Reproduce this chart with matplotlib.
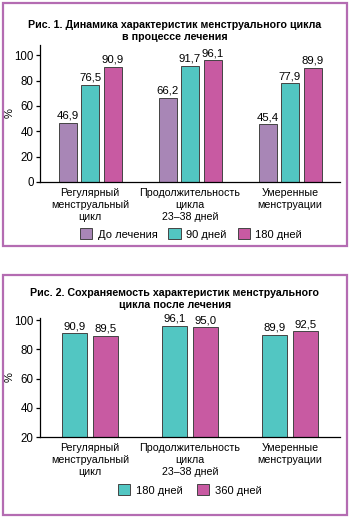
import matplotlib.pyplot as plt
from matplotlib.patches import Rectangle
import numpy as np

plt.rcParams['font.family'] = ['Liberation Sans', 'DejaVu Sans']

categories = ['Регулярный\nменструальный\nцикл', 'Продолжительность\nцикла\n23–38 дней', 'Умеренные\nменструации']

# Рис. 1
fig1_series = ['До лечения', '90 дней', '180 дней']
fig1_before = [46.9, 66.2, 45.4]
fig1_90 = [76.5, 91.7, 77.9]
fig1_180 = [90.9, 96.1, 89.9]

# Рис. 2
fig2_series = ['180 дней', '360 дней']
fig2_180 = [90.9, 96.1, 89.9]
fig2_360 = [89.5, 95.0, 92.5]

c_purple = '#a886b6'
c_teal = '#52c6c2'
c_pink = '#c85aa2'
c_border = '#b46cb2'
edge = '#444444'

W, H = 350, 520
fig = plt.figure(figsize=(3.5, 5.2), dpi=100)


def px_axes(x0, y0, x1, y1):
    return fig.add_axes([x0 / W, 1 - y1 / H, (x1 - x0) / W, (y1 - y0) / H])


def frame(x0, y0, x1, y1):
    fig.patches.append(Rectangle((x0 / W, 1 - y1 / H), (x1 - x0) / W, (y1 - y0) / H,
                                 transform=fig.transFigure, fill=False,
                                 edgecolor=c_border, linewidth=1.6))


def style(ax):
    for s in ['top', 'right']:
        ax.spines[s].set_visible(False)
    ax.spines['left'].set_linewidth(0.9)
    ax.spines['bottom'].set_linewidth(0.9)
    ax.tick_params(axis='y', labelsize=8.3, length=3, width=0.9, pad=1.5)
    ax.tick_params(axis='x', length=0, labelsize=7.7, pad=4)
    ax.set_ylabel('%', fontsize=8)
    ax.yaxis.set_label_coords(-0.085, 0.5)
    ax.set_xlim(-0.5, 2.5)
    ax.set_xticks(range(3))
    ax.set_xticklabels(categories, linespacing=1.25)


def labels(ax, bars):
    for b in bars:
        ax.annotate(f'{b.get_height():.1f}'.replace('.', ','),
                    (b.get_x() + b.get_width() / 2, b.get_height()),
                    xytext=(0, 1.5), textcoords='offset points',
                    ha='center', va='bottom', fontsize=8.2)


# ---- Рис. 1 ----
frame(3, 3, 347, 246)
fig.text(175 / W, 1 - 31 / H, 'Рис. 1. Динамика характеристик менструального цикла\nв процессе лечения',
         ha='center', va='center', fontsize=7.7, fontweight='bold', linespacing=1.15)
ax1 = px_axes(40, 45, 340, 182)
x = np.arange(3)
bw, step = 0.18, 0.225
for off, vals, col, name in zip([-step, 0, step], [fig1_before, fig1_90, fig1_180],
                                [c_purple, c_teal, c_pink], fig1_series):
    bars = ax1.bar(x + off, vals, bw, color=col, edgecolor=edge, linewidth=0.7, label=name)
    labels(ax1, bars)
ax1.set_ylim(0, 108)
ax1.set_yticks([0, 20, 40, 60, 80, 100])
style(ax1)
h, l = ax1.get_legend_handles_labels()
fig.legend(h, l, loc='center', bbox_to_anchor=(191 / W, 1 - 234 / H), ncol=3, frameon=False,
           fontsize=8, handlelength=1.1, handleheight=1.1, handletextpad=0.5,
           columnspacing=1.0, borderpad=0)

# ---- Рис. 2 ----
frame(3, 275, 347, 515)
fig.text(175 / W, 1 - 299 / H, 'Рис. 2. Сохраняемость характеристик менструального\nцикла после лечения',
         ha='center', va='center', fontsize=7.7, fontweight='bold', linespacing=1.15)
ax2 = px_axes(40, 318, 340, 437)
bw2, step2 = 0.255, 0.155
for off, vals, col, name in zip([-step2, step2], [fig2_180, fig2_360], [c_teal, c_pink], fig2_series):
    bars = ax2.bar(x + off, vals, bw2, color=col, edgecolor=edge, linewidth=0.7, label=name)
    labels(ax2, bars)
ax2.set_ylim(20, 101.5)
ax2.set_yticks([20, 40, 60, 80, 100])
style(ax2)
h, l = ax2.get_legend_handles_labels()
fig.legend(h, l, loc='center', bbox_to_anchor=(190 / W, 1 - 490 / H), ncol=2, frameon=False,
           fontsize=8, handlelength=1.1, handleheight=1.1, handletextpad=0.5,
           columnspacing=1.3, borderpad=0)

fig.savefig('out.png', dpi=100)
